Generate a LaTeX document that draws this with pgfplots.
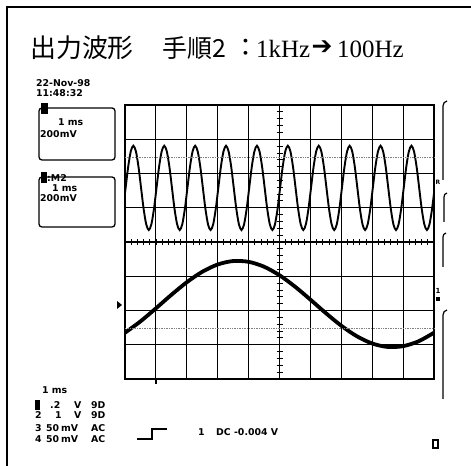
\documentclass[border=0pt]{standalone}
\usepackage{fontspec}
\usepackage{pgfplots}
\usepackage{pgfplotstable}
\pgfplotsset{compat=1.18}
\setmainfont{DejaVu Sans}
\newfontfamily\cjk{Noto Sans CJK JP}
\newfontfamily\lser{Liberation Serif}
\newfontfamily\dv{DejaVu Sans}
\newcommand\sm{\fontsize{9.4}{10}\selectfont\bfseries}

\pgfplotstableread{
x y
-0.063 4.965
0.020 5.580
0.103 6.195
0.187 6.645
0.270 6.810
0.353 6.645
0.437 6.195
0.520 5.580
0.603 4.965
0.687 4.515
0.770 4.350
0.853 4.515
0.937 4.965
1.020 5.580
1.103 6.195
1.187 6.645
1.270 6.810
1.353 6.645
1.437 6.195
1.520 5.580
1.603 4.965
1.687 4.515
1.770 4.350
1.853 4.515
1.937 4.965
2.020 5.580
2.103 6.195
2.187 6.645
2.270 6.810
2.353 6.645
2.437 6.195
2.520 5.580
2.603 4.965
2.687 4.515
2.770 4.350
2.853 4.515
2.937 4.965
3.020 5.580
3.103 6.195
3.187 6.645
3.270 6.810
3.353 6.645
3.437 6.195
3.520 5.580
3.603 4.965
3.687 4.515
3.770 4.350
3.853 4.515
3.937 4.965
4.020 5.580
4.103 6.195
4.187 6.645
4.270 6.810
4.353 6.645
4.437 6.195
4.520 5.580
4.603 4.965
4.687 4.515
4.770 4.350
4.853 4.515
4.937 4.965
5.020 5.580
5.103 6.195
5.187 6.645
5.270 6.810
5.353 6.645
5.437 6.195
5.520 5.580
5.603 4.965
5.687 4.515
5.770 4.350
5.853 4.515
5.937 4.965
6.020 5.580
6.103 6.195
6.187 6.645
6.270 6.810
6.353 6.645
6.437 6.195
6.520 5.580
6.603 4.965
6.687 4.515
6.770 4.350
6.853 4.515
6.937 4.965
7.020 5.580
7.103 6.195
7.187 6.645
7.270 6.810
7.353 6.645
7.437 6.195
7.520 5.580
7.603 4.965
7.687 4.515
7.770 4.350
7.853 4.515
7.937 4.965
8.020 5.580
8.103 6.195
8.187 6.645
8.270 6.810
8.353 6.645
8.437 6.195
8.520 5.580
8.603 4.965
8.687 4.515
8.770 4.350
8.853 4.515
8.937 4.965
9.020 5.580
9.103 6.195
9.187 6.645
9.270 6.810
9.353 6.645
9.437 6.195
9.520 5.580
9.603 4.965
9.687 4.515
9.770 4.350
9.853 4.515
9.937 4.965
10.020 5.580
}\upperwave

\pgfplotstableread{
x y
0 1.351
0.5 1.682
1 2.063
1.5 2.457
2 2.825
2.5 3.130
3 3.343
3.5 3.444
4 3.421
4.5 3.279
5 3.029
5.5 2.698
6 2.317
6.5 1.923
7 1.555
7.5 1.250
8 1.037
8.5 0.936
9 0.959
9.5 1.101
10 1.351
}\lowerwave

\begin{document}
\begin{tikzpicture}
\useasboundingbox (0,0) rectangle (471bp,466bp);
\fill[white] (0,0) rectangle (471bp,466bp);
\begin{axis}[at={(125bp,87bp)}, anchor=south west, scale only axis,
  width=309bp, height=274bp,
  xmin=0, xmax=10, ymin=0, ymax=8,
  xtick={0,1,...,10}, ytick={0,1,...,8},
  xticklabels={}, yticklabels={},
  major tick length=0pt,
  grid=major, grid style={black, line width=1bp},
  axis line style={black, line width=1.4bp}]
\addplot[black, line width=1.9bp, smooth] table {\upperwave};
\addplot[black, line width=3.8bp, smooth] table {\lowerwave};
\end{axis}
\begin{scope}[x=1bp, y=-1bp, shift={(0bp,466bp)}]
  % frame
  \draw[line width=2.5bp] (7,6) -- (7,466);
  \draw[line width=2bp] (6,7) -- (471,7);
  % title
  \node[anchor=west, inner sep=0, font=\cjk\fontsize{26}{26}\selectfont] at (30,48) {出力波形};
  \node[anchor=west, inner sep=0, font=\cjk\fontsize{25}{25}\selectfont] at (162,48) {手順2};
  \node[inner sep=0, font=\cjk\fontsize{25}{25}\selectfont] at (246,48) {：};
  \node[anchor=west, inner sep=0, font=\lser\fontsize{25}{25}\selectfont] at (256,49) {1kHz};
  \node[inner sep=0, font=\dv\fontsize{25}{25}\selectfont] at (322,48) {➔};
  \node[anchor=west, inner sep=0, font=\lser\fontsize{25}{25}\selectfont] at (337,49) {100Hz};
  % date
  \node[anchor=west, inner sep=0, font=\sm] at (36,83) {22-Nov-98};
  \node[anchor=west, inner sep=0, font=\sm] at (36,93) {11:48:32};
  % boxes
  \draw[line width=1.3bp, rounded corners=3bp] (39,108) rectangle (115,160);
  \fill (41,103) rectangle (48,114);
  \node[anchor=west, inner sep=0, font=\sm] at (58,122) {1 ms};
  \node[anchor=west, inner sep=0, font=\sm] at (40,134) {200mV};
  \draw[line width=1.3bp, rounded corners=3bp] (39,177) rectangle (115,227);
  \fill (41,172) rectangle (47,183);
  \node[anchor=west, inner sep=0, font=\sm] at (47,178) {:M2};
  \node[anchor=west, inner sep=0, font=\sm] at (52,188) {1 ms};
  \node[anchor=west, inner sep=0, font=\sm] at (40,198) {200mV};
  % center cross ticks
  \draw[line width=1.4bp] (125,242) -- (434,242);
  \foreach \k in {0,...,40} \draw[line width=0.8bp] (276.5,{105+\k*6.85}) -- (282.5,{105+\k*6.85});
  \foreach \k in {0,...,50} \draw[line width=0.8bp] ({125+\k*6.18},239) -- ({125+\k*6.18},245);
  % dotted reference lines
  \draw[gray, densely dotted, line width=0.7bp] (125,157) -- (434,157);
  \draw[gray, densely dotted, line width=0.7bp] (125,328) -- (434,328);
  % markers
  \fill (117,301) -- (122,305) -- (117,309) -- cycle;
  \draw[line width=1.6bp] (156,379) -- (156,384);
  \node[inner sep=0, font=\fontsize{6}{6}\selectfont\bfseries] at (438,182) {R};
  \node[inner sep=0, font=\fontsize{7}{7}\selectfont\bfseries] at (438,291) {1};
  \fill (436,297) rectangle (440,301);
  % right brackets
  \draw[line width=1.2bp] (447,101) to[out=190,in=90] (443,106) -- (443,180);
  \draw[line width=1.2bp] (447,193) to[out=190,in=90] (444,197) -- (444,222);
  \draw[line width=1.2bp] (446,233) to[out=190,in=90] (443,237) -- (443,267);
  \draw[line width=1.2bp] (447,310) to[out=190,in=90] (443,315) -- (443,399);
  % bottom info
  \node[anchor=west, inner sep=0, font=\sm] at (42,390) {1 ms};
  \fill (35,400) rectangle (40,410);
  \node[anchor=west, inner sep=0, font=\sm] at (50,405) {.2};
  \node[anchor=west, inner sep=0, font=\sm] at (74,405) {V};
  \node[anchor=west, inner sep=0, font=\sm] at (91,405) {9D};
  \node[anchor=west, inner sep=0, font=\sm] at (35,415) {2};
  \node[anchor=west, inner sep=0, font=\sm] at (55,415) {1};
  \node[anchor=west, inner sep=0, font=\sm] at (74,415) {V};
  \node[anchor=west, inner sep=0, font=\sm] at (91,415) {9D};
  \node[anchor=west, inner sep=0, font=\sm] at (35,428) {3};
  \node[anchor=west, inner sep=0, font=\sm] at (46,428) {50};
  \node[anchor=west, inner sep=0, font=\sm] at (61,428) {mV};
  \node[anchor=west, inner sep=0, font=\sm] at (91,428) {AC};
  \node[anchor=west, inner sep=0, font=\sm] at (35,439) {4};
  \node[anchor=west, inner sep=0, font=\sm] at (46,439) {50};
  \node[anchor=west, inner sep=0, font=\sm] at (61,439) {mV};
  \node[anchor=west, inner sep=0, font=\sm] at (91,439) {AC};
  % trigger
  \draw[line width=1.3bp] (137,439) -- (152,439) -- (152,429) -- (167,429);
  \node[anchor=west, inner sep=0, font=\sm] at (198,432) {1};
  \node[anchor=west, inner sep=0, font=\sm] at (216,432) {DC -0.004 V};
  \draw[line width=1.2bp] (433,440) rectangle (438,448);
\end{scope}
\end{tikzpicture}
\end{document}
